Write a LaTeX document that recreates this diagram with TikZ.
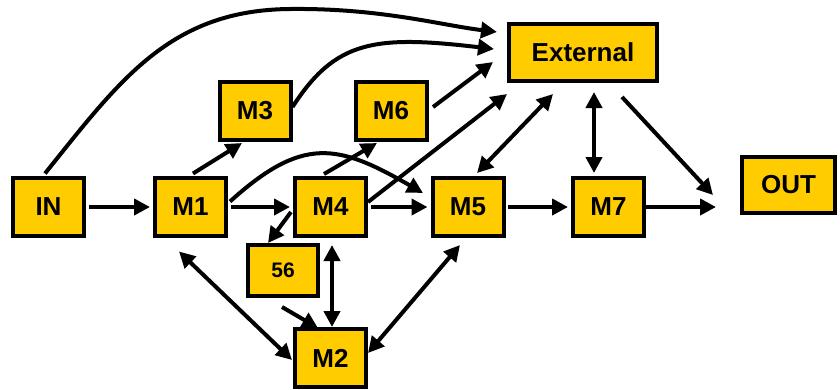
\documentclass[tikz,border=0pt]{standalone}
\usepackage{fontspec}
\setmainfont{Liberation Sans}
\usetikzlibrary{arrows.meta}
\definecolor{boxyellow}{RGB}{255,204,0}

\tikzset{
  block/.style={draw, line width=4pt, fill=boxyellow, minimum width=71pt, minimum height=58pt,
    inner sep=0pt, font=\bfseries\fontsize{26}{30}\selectfont},
  flow/.style={line width=4pt, -{Triangle[length=16pt,width=16pt]}},
  both/.style={line width=4pt, {Triangle[length=16pt,width=16pt]}-{Triangle[length=16pt,width=16pt]}},
  gap/.style={shorten <=2.5pt, shorten >=3pt}
}

\begin{document}
\begin{tikzpicture}[x=1pt, y=-1pt]
    \useasboundingbox (0,0) rectangle (840,389);

    % Blocks
    \node[block] (IN) at (48.5,207) {IN};
    \node[block] (M1) at (190.5,207) {M1};
    \node[block] (M4) at (330.5,207) {M4};
    \node[block] (M5) at (468,207) {M5};
    \node[block] (M7) at (608.5,207) {M7};
    \node[block] (M3) at (255,111) {M3};
    \node[block] (M6) at (391,111) {M6};
    \node[block] (M2) at (330.5,358) {M2};
    \node[block, minimum width=70pt, minimum height=51pt, font=\bfseries\fontsize{21}{25}\selectfont] (B56) at (283,270.5) {56};
    \node[block, minimum width=148pt, minimum height=57pt] (Ext) at (583,52.5) {External};
    \node[block, minimum width=93pt, minimum height=56pt] (OUT) at (788.5,185) {OUT};

    % Main line
    \draw[flow, gap] (IN) -- (M1);
    \draw[flow, gap] (M1) -- (M4);
    \draw[flow, gap] (M4) -- (M5);
    \draw[flow, gap] (M5) -- (M7);
    \draw[flow, shorten >=24pt] (M7) -- (M7 -| OUT.west);

    % Into External
    \draw[flow] ([xshift=-3.5pt,yshift=2.5pt]IN.north) .. controls (120,80) and (170,10) .. (290,9)
        .. controls (380,8) and (440,25) .. ([xshift=-10pt,yshift=20.5pt]Ext.west);
    \draw[flow] ([yshift=4pt]M3.east) .. controls +(43,-67) and +(-119,-14) .. ([xshift=-13pt,yshift=3.5pt]Ext.west);
    \draw[flow] ([xshift=4.5pt,yshift=4pt]M6.east) -- ([xshift=-14pt,yshift=-9.5pt]Ext.west);
    \draw[flow] ([yshift=5pt]M4.east) -- ([yshift=-11pt]Ext.south west);

    % Out of External
    \draw[both] ([xshift=-30pt,yshift=-11pt]Ext.south) -- ([xshift=9pt,yshift=3pt]M5.north);
    \draw[both] ([xshift=11pt,yshift=-9pt]Ext.south) -- ([xshift=-14.5pt,yshift=3pt]M7.north);
    \draw[flow] ([xshift=39pt,yshift=-14pt]Ext.south) -- ([xshift=-27pt,yshift=-10pt]OUT.west);

    % Side branches
    \draw[flow] ([xshift=2.5pt,yshift=2.5pt]M1.north) -- ([xshift=-13pt,yshift=-1pt]M3.south);
    \draw[flow] ([xshift=-6.5pt,yshift=2pt]M4.north) -- ([xshift=-14pt,yshift=-1pt]M6.south);
    \draw[flow] ([xshift=2pt,yshift=5.5pt]M1.east) .. controls +(73,-66) and +(-85,-49) .. ([xshift=-7.5pt,yshift=14pt]M5.west);
    \draw[flow] ([xshift=-2pt,yshift=-5pt]M4.west) -- ([xshift=-15pt]B56.north);
    \draw[flow] ([xshift=-1pt,yshift=-9pt]B56.south) -- ([xshift=-12.5pt,yshift=-1pt]M2.north);

    % Links to M2
    \draw[both] ([xshift=1.5pt,yshift=-7pt]M4.south) -- ([xshift=1.5pt]M2.north);
    \draw[both] ([xshift=-11.5pt,yshift=-13.5pt]M1.south) -- ([xshift=-1pt,yshift=-2pt]M2.west);
    \draw[both] ([xshift=-8pt,yshift=-7pt]M5.south) -- ([yshift=5pt]M2.east);
\end{tikzpicture}
\end{document}
